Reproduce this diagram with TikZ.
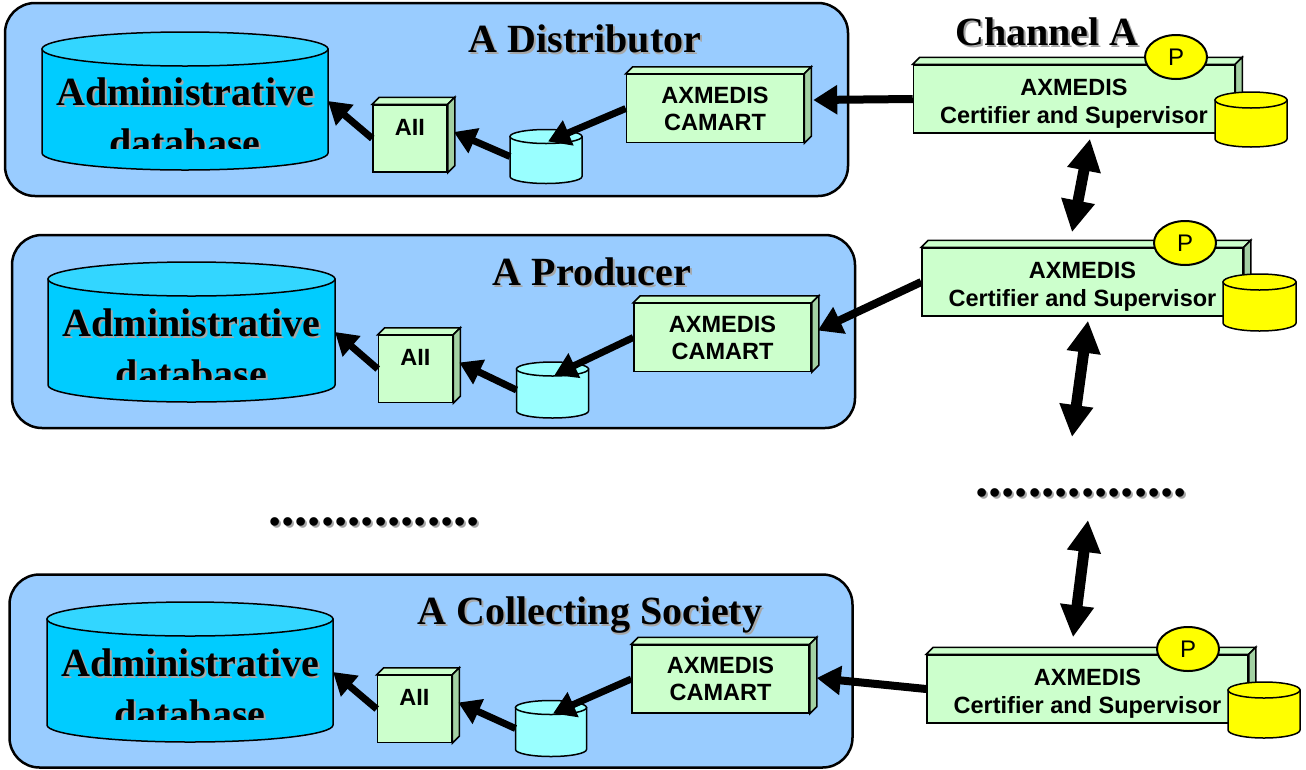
\documentclass[tikz,border=0pt]{standalone}
\usepackage{fontspec}
\setmainfont{Liberation Serif}
\setsansfont{Liberation Sans}
\usetikzlibrary{calc,shapes.geometric,arrows.meta,positioning}
\definecolor{orgblue}{HTML}{99CCFF}
\definecolor{dbbody}{HTML}{00CCFF}
\definecolor{dbtop}{HTML}{33D6FF}
\definecolor{storecyan}{HTML}{99FFFF}
\definecolor{modgreen}{HTML}{CCFFCC}
\definecolor{modside}{HTML}{A3D1A3}
\definecolor{pyellow}{HTML}{FFFF00}
% grey drop shadow under bold titles
\newcommand{\shadowed}[1]{\leavevmode\rlap{\kern2pt\raisebox{-2pt}{\color{black!35}#1}}#1}
% push a line of text down without changing the box
\newcommand{\lowered}[1]{\raisebox{-5pt}[\height][\depth]{#1}}
% top and side faces of a module box
\newcommand{\modfaces}[1]{%
	\draw[modedge,fill=modgreen] (#1.north west) -- ++(7,-7) -- ($(#1.north east)+(7,-7)$) -- (#1.north east) -- cycle;
	\draw[modedge,fill=modside] (#1.north east) -- ++(7,-7) -- ($(#1.south east)+(7,-7)$) -- (#1.south east) -- cycle;
}
% drum: name, x, y, width, height, end radius, body colour, top colour
\newcommand{\drum}[8]{%
	\node[drumbox, minimum width=#4pt, minimum height=#5pt] (#1) at (#2,#3) {};
	\draw[drumedge,fill=#7] ($(#1.north west)+(0,#6)$) -- ($(#1.south west)+(0,-#6)$)
		arc[start angle=180, end angle=360, x radius={#4*0.5pt}, y radius=#6pt]
		-- ($(#1.north east)+(0,#6)$) -- cycle;
	\draw[drumedge,fill=#8] ($(#1.north)+(0,#6)$) ellipse[x radius={#4*0.5pt}, y radius=#6pt];
}
\tikzset{
org/.style={
	draw, line width=2.5pt, fill=orgblue, rounded corners=30pt,
	minimum width=843pt, minimum height=193pt, inner sep=0pt
}
, orgtitle/.style={anchor=base, font=\bfseries\fontsize{40}{43}\selectfont}
, dbtext/.style={anchor=base, font=\bfseries\fontsize{40}{43}\selectfont}
, drumbox/.style={inner sep=0pt, outer sep=0pt}
, drumedge/.style={draw, line width=1.5pt}
, modedge/.style={draw, line width=1.5pt}
, mod/.style={
	modedge, fill=modgreen, inner sep=0pt, align=center,
	font=\sffamily\bfseries\fontsize{23.5}{27}\selectfont
}
, aii/.style={minimum width=74pt, text height=30pt, text depth=37pt}
, camart/.style={minimum width=177pt, minimum height=68pt}
, certbox/.style={minimum width=321pt, minimum height=68pt,
	font=\sffamily\bfseries\fontsize{23.5}{28}\selectfont}
, pmark/.style={
	ellipse, draw, line width=2pt, fill=pyellow, inner sep=0pt,
	minimum width=62pt, minimum height=44pt, font=\sffamily\fontsize{24}{26}\selectfont
}
, dots/.style={anchor=base, font=\bfseries\fontsize{53}{56}\selectfont}
% links
, feed/.style={line width=7pt, -{Triangle[length=22pt,width=26pt]}}
, link/.style={line width=8pt, -{Triangle[length=24pt,width=28pt]}}
, sync/.style={line width=11pt, {Triangle[length=32pt,width=32pt]}-{Triangle[length=32pt,width=32pt]}}
}
\begin{document}
\begin{tikzpicture}[x=1pt,y=-1pt]
	\useasboundingbox (0,0) rectangle (1306,769);
	% organisations
	\node[org] (org1) at (426.5,99.5) {};
	\node[org] (org2) at (433.5,331.5) {};
	\node[org] (org3) at (431,671) {};
	\node[orgtitle] (dist) at (585,52) {\shadowed{A Distributor}};
	\node[orgtitle] (prod) at (592,285) {\shadowed{A Producer}};
	\node[orgtitle] (coll) at (590,624) {\shadowed{A Collecting Society}};
	\node[orgtitle] (chan) at (1047,45) {\shadowed{Channel A}};
	% administrative databases
	\drum{db1}{185}{101}{286}{138}{17}{dbbody}{dbtop}
	\drum{db2}{191.5}{332}{287}{140}{17}{dbbody}{dbtop}
	\drum{db3}{190}{672}{286}{140}{17}{dbbody}{dbtop}
	\foreach \i in {1,2,3}{
		\begin{scope}
			\clip ($(db\i.center)+(-150,-80)$) rectangle ($(db\i.center)+(150,47)$);
			\node[dbtext] (dbl\i) at ($(db\i.center)+(0,4)$) {\shadowed{Administrative}};
			\node[dbtext] (dbm\i) at ($(dbl\i.base)+(0,51)$) {\shadowed{database}};
		\end{scope}
	}
	% AII
	\node[mod,aii] (aii1) at (410,138.5) {AII};
	\node[mod,aii] (aii2) at (415.5,369) {AII};
	\node[mod,aii] (aii3) at (414.5,709) {AII};
	% local stores
	\drum{st1}{546}{156.5}{72}{54}{7}{storecyan}{storecyan}
	\drum{st2}{552.5}{390}{72}{56}{7}{storecyan}{storecyan}
	\drum{st3}{551}{728.5}{71}{56}{7}{storecyan}{storecyan}
	% CAMART
	\node[mod,camart] (cam1) at (715,108.5) {AXMEDIS\\CAMART};
	\node[mod,camart] (cam2) at (722.5,337.5) {AXMEDIS\\CAMART};
	\node[mod,camart] (cam3) at (720.5,679) {AXMEDIS\\CAMART};
	% certifiers
	\node[mod,certbox] (cert1) at (1074,99) {\lowered{AXMEDIS}\\\lowered{Certifier and Supervisor}};
	\node[mod,certbox] (cert2) at (1082.5,282) {\lowered{AXMEDIS}\\\lowered{Certifier and Supervisor}};
	\node[mod,certbox] (cert3) at (1087.5,689) {\lowered{AXMEDIS}\\\lowered{Certifier and Supervisor}};
	\foreach \n in {aii1,aii2,aii3,cam1,cam2,cam3,cert1,cert2,cert3}{\modfaces{\n}}
	\node[pmark] (p1) at (1176,57) {P};
	\node[pmark] (p2) at (1185,243) {P};
	\node[pmark] (p3) at (1188,649) {P};
	\drum{ys1}{1251}{119.5}{72}{55}{8}{pyellow}{pyellow}
	\drum{ys2}{1259.5}{302.5}{73}{57}{8}{pyellow}{pyellow}
	\drum{ys3}{1264}{710}{72}{56}{8}{pyellow}{pyellow}
	% more organisations / certifiers
	\node[dots] (dotsL) at (374,525) {\shadowed{................}};
	\node[dots] (dotsR) at (1081,496) {\shadowed{................}};

	% links
	\draw[link] (cert1.west) -- ($(cam1.east)+(9,-8.5)$);
	\draw[link] (cert2.west) -- ($(cam2.east)+(6,-7)$);
	\draw[link] (cert3.west) -- ($(cam3.east)+(7,-1)$);
	\foreach \i in {1,2,3}{
		\draw[feed] (cam\i.west) -- ($(st\i.center)+(2,-15)$);
		\draw[feed] (st\i.west) -- ($(aii\i.east)+(6,-6.5)$);
		\draw[feed] (aii\i.west) -- (db\i.east);
	}
	\draw[sync] ($(cert1.south)+(16,5)$) -- ($(cert2.north)+(-10.5,-15)$);
	\draw[sync] ($(cert2.south)+(5.5,4)$) -- ($(dotsR.base)+(-9,-59)$);
	\draw[sync] ($(dotsR.base)+(7,24)$) -- ($(cert3.north)+(-14.5,-17)$);
\end{tikzpicture}
\end{document}
